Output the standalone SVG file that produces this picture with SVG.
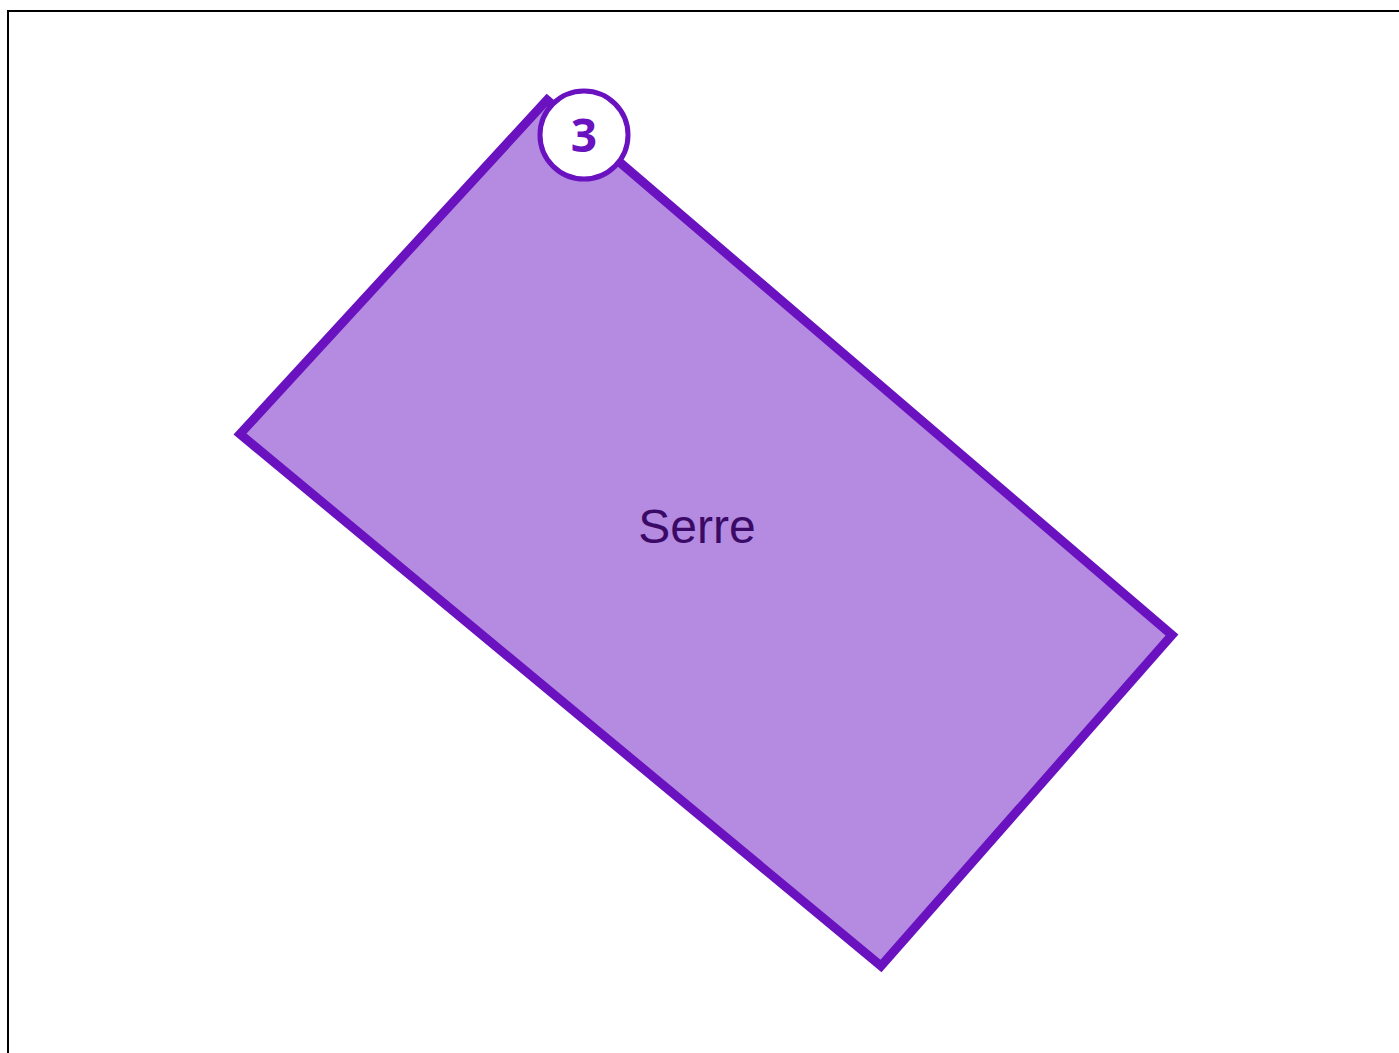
<svg xmlns="http://www.w3.org/2000/svg" width="1399" height="1053" viewBox="0 0 1399 1053">
<style>
.frame{fill:none;stroke:#000;stroke-width:2}
.zone{fill:#b48be0;stroke:#6a11c0;stroke-width:9;stroke-linejoin:miter}
.lbl{font-family:"Liberation Sans",Arial,sans-serif;font-size:48px;fill:#3a0a66;text-anchor:middle}
.badge{fill:#fff;stroke:#6a11c0;stroke-width:5}
.num{font-family:"Open Sans","DejaVu Sans",sans-serif;font-weight:bold;font-size:46px;fill:#6a11c0;text-anchor:middle}
</style>
<rect x="0" y="0" width="1399" height="1053" fill="#fff"/>
<rect class="frame" x="8" y="11" width="1400" height="1060"/>
<g id="serre">
<polygon class="zone" points="547,100 1172,635 881,966 240,434"/>
<text class="lbl" x="697" y="543">Serre</text>
</g>
<g id="badge-3">
<circle class="badge" cx="584" cy="135" r="44"/>
<text class="num" x="584" y="152">3</text>
</g>
<g id="connectors"></g>
</svg>
